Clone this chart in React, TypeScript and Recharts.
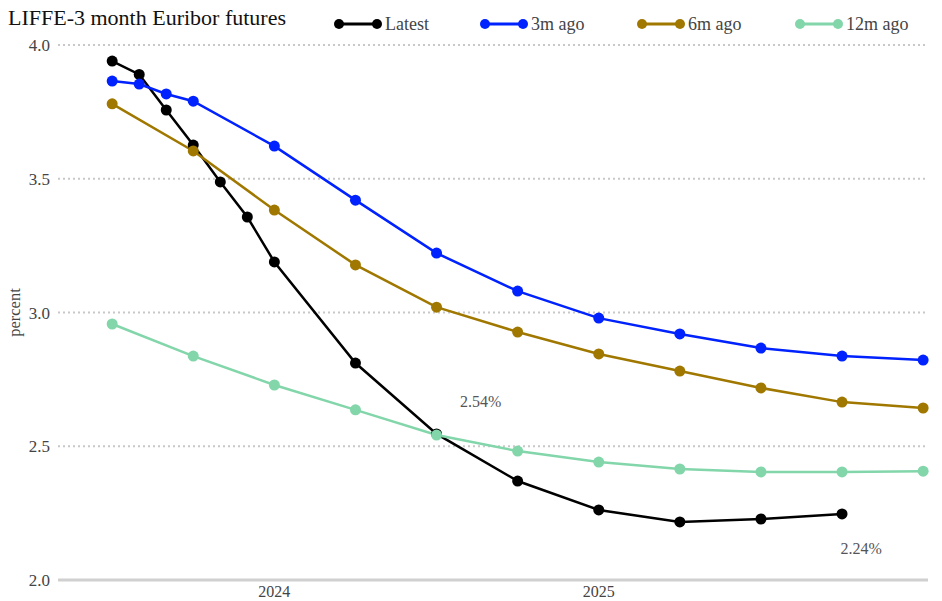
import React from "react";
import {
  LineChart,
  Line,
  XAxis,
  YAxis,
  CartesianGrid,
  ReferenceDot,
} from "recharts";

// months as "YYYY-MM", converted to decimal years for the numeric x axis
const latestMonths = [
  "2023-07", "2023-08", "2023-09", "2023-10", "2023-11", "2023-12", "2024-01",
  "2024-04", "2024-07", "2024-10", "2025-01", "2025-04", "2025-07", "2025-10",
];
const latestValues = [
  3.94, 3.89, 3.757, 3.626, 3.488, 3.357, 3.189, 2.811, 2.546, 2.37, 2.262,
  2.217, 2.228, 2.247,
];

const m3Months = [
  "2023-07", "2023-08", "2023-09", "2023-10", "2024-01", "2024-04", "2024-07",
  "2024-10", "2025-01", "2025-04", "2025-07", "2025-10", "2026-01",
];
const m3Values = [
  3.865, 3.854, 3.817, 3.79, 3.622, 3.42, 3.222, 3.08, 2.979, 2.92, 2.867,
  2.837, 2.822,
];

const quarterMonths = [
  "2023-07", "2023-10", "2024-01", "2024-04", "2024-07", "2024-10", "2025-01",
  "2025-04", "2025-07", "2025-10", "2026-01",
];
const m6Values = [
  3.78, 3.604, 3.383, 3.178, 3.02, 2.927, 2.845, 2.781, 2.718, 2.665, 2.643,
];
const m12Values = [
  2.957, 2.837, 2.729, 2.636, 2.542, 2.482, 2.441, 2.415, 2.404, 2.404, 2.407,
];

const xTicks = [2024, 2025];
const yTicks = [2.0, 2.5, 3.0, 3.5, 4.0];

const toYear = (m: string) => {
  const [y, mo] = m.split("-").map(Number);
  return y + (mo - 1) / 12;
};
const build = (months: string[], values: number[]) =>
  months.map((m, i) => ({ x: toYear(m), y: values[i] }));

const series = [
  { name: "Latest", color: "#000000", data: build(latestMonths, latestValues) },
  { name: "3m ago", color: "#0022ff", data: build(m3Months, m3Values) },
  { name: "6m ago", color: "#a07800", data: build(quarterMonths, m6Values) },
  { name: "12m ago", color: "#82d6aa", data: build(quarterMonths, m12Values) },
];

const legendX = [332, 478, 635, 793];

const font = "'Liberation Serif', 'Times New Roman', serif";

const App: React.FC = () => {
  return (
    <div
      style={{
        position: "absolute",
        left: 0,
        top: 0,
        width: 942,
        height: 601,
        background: "#fff",
        fontFamily: font,
      }}
    >
      <div
        style={{
          position: "absolute",
          left: 8,
          top: 5,
          fontSize: 22,
          color: "#111",
        }}
      >
        LIFFE-3 month Euribor futures
      </div>
      {series.map((s, i) => (
        <div
          key={s.name}
          style={{
            position: "absolute",
            left: legendX[i],
            top: 13,
            display: "flex",
            alignItems: "center",
            fontSize: 18,
            color: "#444",
          }}
        >
          <svg width={50} height={22}>
            <line x1={7} y1={11} x2={45} y2={11} stroke={s.color} strokeWidth={3} />
            <circle cx={7} cy={11} r={5} fill={s.color} />
            <circle cx={45} cy={11} r={5} fill={s.color} />
          </svg>
          <span style={{ marginLeft: 3 }}>{s.name}</span>
        </div>
      ))}
      <LineChart
        width={942}
        height={601}
        margin={{ top: 45, right: 14, left: 8, bottom: 0 }}
        style={{ position: "absolute", left: 0, top: 0 }}
      >
        <CartesianGrid
          vertical={false}
          stroke="#c8c8c8"
          strokeDasharray="2 3"
          strokeWidth={2}
        />
        <XAxis
          dataKey="x"
          type="number"
          domain={[2023.333, 2026.015]}
          ticks={xTicks}
          allowDuplicatedCategory={false}
          axisLine={{ stroke: "#d0d0d0", strokeWidth: 3 }}
          tickLine={false}
          height={21}
          tick={{ fill: "#444", fontSize: 16, fontFamily: font }}
          tickMargin={0}
        />
        <YAxis
          type="number"
          domain={[2, 4]}
          ticks={yTicks}
          width={50}
          axisLine={false}
          tickLine={false}
          tickFormatter={(v: number) => v.toFixed(1)}
          tick={{ fill: "#444", fontSize: 17, fontFamily: font }}
          label={{
            value: "percent",
            content: (props: any) => {
              const vb = props.viewBox;
              const cx = 14;
              const cy = vb.y + vb.height / 2;
              return (
                <text
                  x={cx}
                  y={cy}
                  transform={`rotate(-90 ${cx} ${cy})`}
                  textAnchor="middle"
                  dominantBaseline="central"
                  fontSize={16.5}
                  fontFamily={font}
                  fill="#444"
                >
                  percent
                </text>
              );
            },
          }}
        />
        {series.map((s) => (
          <Line
            key={s.name}
            data={s.data}
            dataKey="y"
            name={s.name}
            type="linear"
            stroke={s.color}
            strokeWidth={2.5}
            dot={{ r: 5.5, fill: s.color, stroke: s.color, strokeWidth: 0 }}
            isAnimationActive={false}
          />
        ))}
        <ReferenceDot
          x={2024.636}
          y={2.669}
          r={0}
          label={{ value: "2.54%", fill: "#555", fontSize: 16, fontFamily: font }}
        />
        <ReferenceDot
          x={2025.809}
          y={2.12}
          r={0}
          label={{ value: "2.24%", fill: "#555", fontSize: 16, fontFamily: font }}
        />
      </LineChart>
    </div>
  );
};

export default App;
